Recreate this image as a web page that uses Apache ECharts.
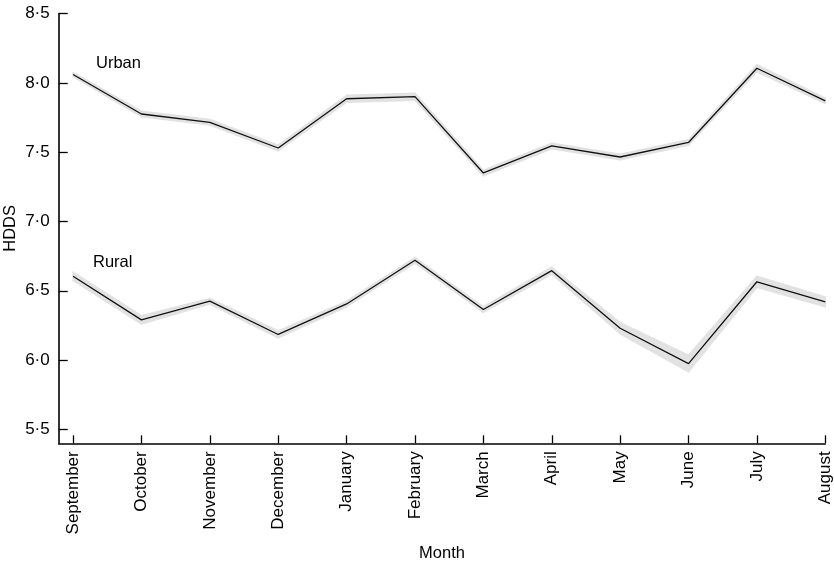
<!DOCTYPE html>
<html>
<head>
<meta charset="utf-8">
<script src="https://cdn.jsdelivr.net/npm/echarts@6/dist/echarts.min.js"></script>
<style>html,body{margin:0;padding:0;background:#fff}#c{width:834px;height:565px}</style>
</head>
<body>
<div id="c"></div>
<script>
var months = ['September','October','November','December','January','February','March','April','May','June','July','August'];
var urban = [8.06, 7.775, 7.715, 7.53, 7.885, 7.90, 7.35, 7.545, 7.465, 7.57, 8.105, 7.87];
var urbanSe = [0.015, 0.02, 0.02, 0.02, 0.025, 0.025, 0.02, 0.02, 0.02, 0.02, 0.025, 0.02];
var rural = [6.605, 6.29, 6.425, 6.185, 6.405, 6.72, 6.365, 6.645, 6.23, 5.975, 6.565, 6.42];
var ruralSe = [0.03, 0.03, 0.02, 0.025, 0.02, 0.02, 0.02, 0.025, 0.04, 0.06, 0.04, 0.035];
var yTicks = [5.5, 6.0, 6.5, 7.0, 7.5, 8.0, 8.5];
var xTicks = [0,1,2,3,4,5,6,7,8,9,10,11];

function pts(arr){ return arr.map(function(v,i){ return [i, v]; }); }
function bandData(arr, se){ return arr.map(function(v,i){ return [i, v - se[i], v + se[i]]; }); }

var FONT = '"Liberation Sans", Arial, Helvetica, sans-serif';
var chart = echarts.init(document.getElementById('c'));
var bandColor = '#e2e2e2';

function bandSeries(arr, se){
  var d = bandData(arr, se);
  return {
    type:'custom', data: d, silent:true, z:1,
    encode:{x:0, y:[1,2]},
    renderItem:function(params, api){
      var i = params.dataIndex;
      if (i >= d.length - 1) return null;
      var a = d[i], b = d[i+1];
      var p1 = api.coord([a[0], a[2]]), p2 = api.coord([b[0], b[2]]);
      var p3 = api.coord([b[0], b[1]]), p4 = api.coord([a[0], a[1]]);
      return {type:'polygon', shape:{points:[p1,p2,p3,p4]},
        style:{fill:bandColor, stroke:bandColor, lineWidth:1.5, lineJoin:'round'}};
    }
  };
}
chart.setOption({
  animation:false,
  grid:{left:58.7, right:8.7, top:13.5, bottom:121.7, containLabel:false, outerBoundsMode:'none'},
  xAxis:{
    type:'value', min:-0.21, max:11,
    name:'Month', nameLocation:'middle', nameGap:102, nameMoveOverlap:false,
    nameTextStyle:{fontFamily:FONT, fontSize:16.5, color:'#000'},
    axisLine:{show:true, onZero:false, lineStyle:{color:'#000', width:1.6}},
    axisTick:{show:true, inside:true, length:8, customValues:xTicks, lineStyle:{color:'#000', width:1.3}},
    axisLabel:{customValues:xTicks, rotate:90, margin:8, fontFamily:FONT, fontSize:17, color:'#000',
      formatter:function(v){ return months[Math.round(v)] || ''; }},
    splitLine:{show:false}
  },
  yAxis:{
    type:'value', min:5.4, max:8.5,
    name:'HDDS', nameLocation:'middle', nameGap:40, nameRotate:90, nameMoveOverlap:false,
    nameTextStyle:{fontFamily:FONT, fontSize:16.5, color:'#000'},
    axisLine:{show:true, onZero:false, lineStyle:{color:'#000', width:1.6}},
    axisTick:{show:true, inside:true, length:9, customValues:yTicks, lineStyle:{color:'#000', width:1.3}},
    axisLabel:{customValues:yTicks, margin:9, fontFamily:FONT, fontSize:17, color:'#000',
      formatter:function(v){ return v.toFixed(1).replace('.', '\u00B7'); }},
    splitLine:{show:false}
  },
  graphic:[
    {type:'text', left:96, top:55, style:{text:'Urban', font:'16.5px ' + FONT, fill:'#000'}},
    {type:'text', left:93, top:254, style:{text:'Rural', font:'16.5px ' + FONT, fill:'#000'}}
  ],
  series:[
    bandSeries(urban, urbanSe),
    bandSeries(rural, ruralSe),
    {type:'line', name:'Urban', data: pts(urban), symbol:'none', lineStyle:{color:'#111', width:1.3}, z:3},
    {type:'line', name:'Rural', data: pts(rural), symbol:'none', lineStyle:{color:'#111', width:1.3}, z:3}
  ]
});
</script>
</body>
</html>
